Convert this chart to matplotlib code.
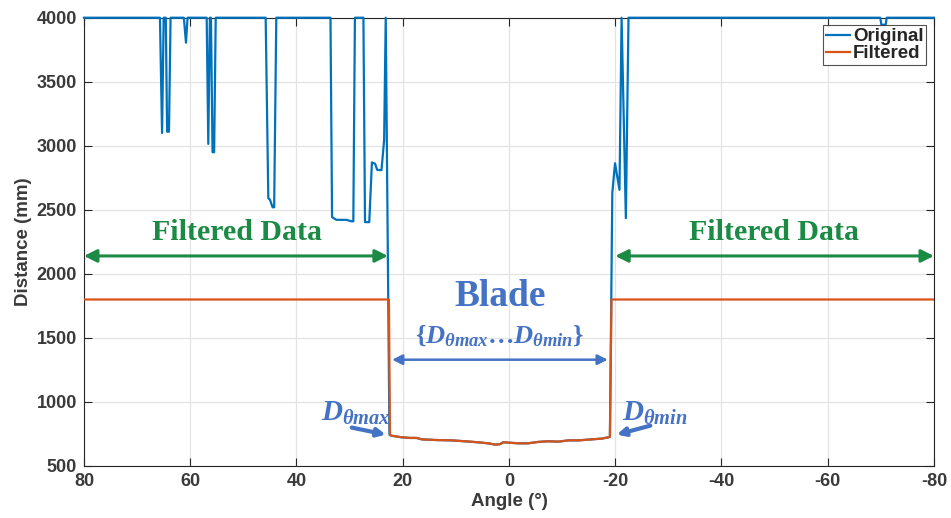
import matplotlib
matplotlib.use("Agg")
import matplotlib.pyplot as plt
import numpy as np

# scan angles (deg) and measured distances (mm)
BLADE_ANGLE = [22.4, 22.2, 20.2, 18.6, 17.4, 16.4, 13.9, 10.8, 8.3, 5.8, 3.9, 2.6, 1.7,
               1.1, 0.0, -1.8, -3.6, -5.5, -7.4, -9.3, -11.2, -13.1, -15.6, -17.5, -18.7, -19.0]
BLADE_DIST = [742, 737, 724, 719, 719, 708, 703, 700, 693, 685, 677, 667, 670,
              685, 682, 677, 677, 688, 693, 690, 700, 700, 708, 714, 724, 729]

ORIG_LEFT_ANGLE = [80, 65.7, 65.3, 65.0, 64.6, 64.35, 64.0, 63.7, 61.2, 60.8, 60.5,
                   56.9, 56.6, 56.3, 56.1, 55.8, 55.5, 55.2, 45.8, 45.3, 45.0, 44.5,
                   44.2, 43.8, 33.6, 33.3, 32.5, 30.6, 29.6, 29.3, 29.0, 27.4, 27.1,
                   26.3, 25.8, 25.2, 24.8, 24.0, 23.5, 23.2, 22.5]
ORIG_LEFT_DIST = [4000, 4000, 3100, 4000, 4000, 3110, 3110, 4000, 4000, 3805, 4000,
                  4000, 3015, 4000, 4000, 2950, 2950, 4000, 4000, 2590, 2580, 2520,
                  2520, 4000, 4000, 2443, 2422, 2422, 2410, 2410, 4000, 4000, 2404,
                  2404, 2870, 2860, 2812, 2810, 3046, 4000, 745]

ORIG_RIGHT_ANGLE = [-19.45, -19.96, -20.8, -21.2, -22.0, -22.5, -69.9, -70.1, -70.9, -71.1, -80]
ORIG_RIGHT_DIST = [2630, 2864, 2656, 4000, 2435, 4000, 4000, 3945, 3945, 4000, 4000]

FILT_LEFT_ANGLE = [80, 22.6]
FILT_RIGHT_ANGLE = [-19.3, -80]
FILT_LEVEL = 1800

BLUE = "#0072BD"
ORANGE = "#D95319"
GREEN = "#1b8a45"
ANNOT = "#4472C4"
AXCOL = "#262626"

plt.rcParams["font.family"] = ["Liberation Sans", "DejaVu Sans"]
plt.rcParams["font.weight"] = "bold"
plt.rcParams["axes.unicode_minus"] = False
plt.rcParams["mathtext.fontset"] = "custom"
plt.rcParams["mathtext.rm"] = "Liberation Serif:bold"
plt.rcParams["mathtext.it"] = "Liberation Serif:italic:bold"
plt.rcParams["mathtext.bf"] = "Liberation Serif:bold"

fig = plt.figure(figsize=(9.51, 5.18), dpi=100)
ax = fig.add_axes([0.0883, 0.1004, 0.8938, 0.8654])

orig_x = ORIG_LEFT_ANGLE + BLADE_ANGLE[1:] + ORIG_RIGHT_ANGLE
orig_y = ORIG_LEFT_DIST + BLADE_DIST[1:] + ORIG_RIGHT_DIST
filt_x = FILT_LEFT_ANGLE + BLADE_ANGLE + FILT_RIGHT_ANGLE
filt_y = [FILT_LEVEL] * 2 + BLADE_DIST + [FILT_LEVEL] * 2

ax.plot(orig_x, orig_y, color=BLUE, lw=1.6, label="Original", clip_on=False, zorder=3)
ax.plot(filt_x, filt_y, color=ORANGE, lw=1.6, label="Filtered", zorder=4)

ax.set_xlim(80, -80)
ax.set_ylim(500, 4000)
ax.set_xticks(np.arange(80, -81, -20))
ax.set_yticks(np.arange(500, 4001, 500))
ax.grid(True, color="#e3e3e3", lw=0.9, zorder=0)
ax.set_axisbelow(True)
ax.tick_params(direction="in", length=6, width=0.8, colors=AXCOL, labelsize=13,
               top=True, right=True, pad=5)
for lab in ax.get_xticklabels() + ax.get_yticklabels():
    lab.set_fontweight("bold")
    lab.set_color("#3a3a3a")
for sp in ax.spines.values():
    sp.set_color(AXCOL)
    sp.set_linewidth(0.8)
ax.set_xlabel("Angle (°)", fontsize=13.5, fontweight="bold", color="#3a3a3a", labelpad=2)
ax.set_ylabel("Distance (mm)", fontsize=13.5, fontweight="bold", color="#3a3a3a", labelpad=3)

leg = ax.legend(loc="upper right", frameon=True, fancybox=False,
                handlelength=1.3, handletextpad=0.15, labelspacing=0.0,
                borderpad=0.15, borderaxespad=0.4, prop={"weight": "bold", "size": 13.5})
leg.get_frame().set_edgecolor(AXCOL)
leg.get_frame().set_linewidth(0.8)
for t in leg.get_texts():
    t.set_color(AXCOL)

# green "filtered" spans
serif_bold = dict(family="Liberation Serif", fontweight="bold")
for (x0, x1, xc) in [(80, 22.8, 51.2), (-20.0, -80, -49.9)]:
    ax.annotate("", xy=(x1, 2140), xytext=(x0, 2140),
                arrowprops=dict(arrowstyle="<|-|>", color=GREEN, lw=2.2,
                                mutation_scale=19, shrinkA=0, shrinkB=0))
    ax.text(xc, 2321, "Filtered Data", color=GREEN, fontsize=21.5, ha="center",
            va="center", **serif_bold)

# blade span
ax.text(1.7, 1821, "Blade", color=ANNOT, fontsize=27, ha="center", va="center", **serif_bold)
ax.text(1.7, 1509, r"$\{D_{\theta max}\ldots D_{\theta min}\}$", color=ANNOT, fontsize=19,
        ha="center", va="center")
ax.annotate("", xy=(-18.6, 1330), xytext=(22.0, 1330),
            arrowprops=dict(arrowstyle="<|-|>", color=ANNOT, lw=1.8,
                            mutation_scale=15, shrinkA=0, shrinkB=0))

# edge markers
ax.text(35.3, 849, r"$D_{\theta max}$", color=ANNOT, fontsize=21, ha="left", va="baseline")
ax.annotate("", xy=(23.2, 745), xytext=(29.6, 800),
            arrowprops=dict(arrowstyle="-|>", color=ANNOT, lw=3.0,
                            mutation_scale=12, shrinkA=0, shrinkB=0))
ax.text(-21.2, 849, r"$D_{\theta min}$", color=ANNOT, fontsize=21, ha="left", va="baseline")
ax.annotate("", xy=(-20.3, 745), xytext=(-26.6, 815),
            arrowprops=dict(arrowstyle="-|>", color=ANNOT, lw=3.0,
                            mutation_scale=12, shrinkA=0, shrinkB=0))

fig.savefig("out.png", dpi=100)
